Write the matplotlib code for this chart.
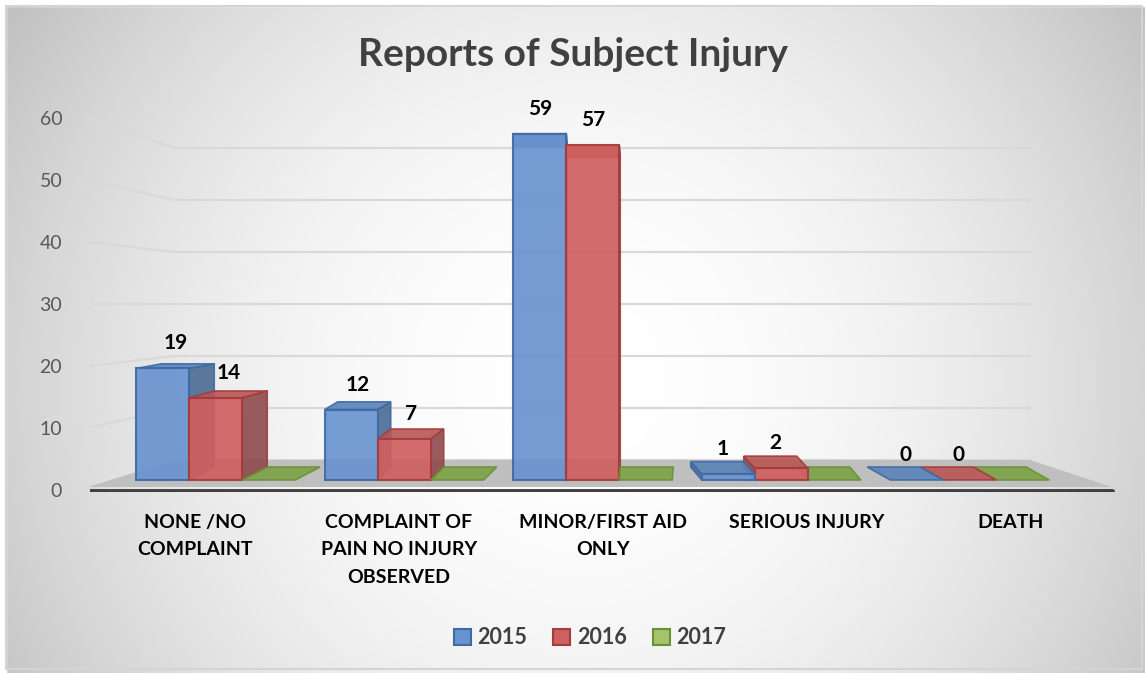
import numpy as np
import matplotlib.pyplot as plt
from matplotlib.patches import Polygon, Patch, Rectangle

plt.rcParams['font.family'] = ['Lato', 'DejaVu Sans']

# data
categories = ["NONE /NO\nCOMPLAINT", "COMPLAINT OF\nPAIN NO INJURY\nOBSERVED",
              "MINOR/FIRST AID\nONLY", "SERIOUS INJURY", "DEATH"]
years = ["2015", "2016", "2017"]
v2015 = [19, 12, 59, 1, 0]
v2016 = [14, 7, 57, 2, 0]
v2017 = [0, 0, 0, 0, 0]
yticks = [0, 10, 20, 30, 40, 50, 60]

series = [v2015, v2016, v2017]
face = ['#6993cf', '#cf5f5f', '#7ba344']
edge = ['#3e6aa6', '#a33c3c', '#6a9038']
side = ['#4a6b94', '#8f4a4c', '#6a9038']
top = ['#5a82b8', '#b85656', '#7ba344']
leg_face = ['#6993cf', '#cf6060', '#a5c46a']

W, H = 1145, 673
fig = plt.figure(figsize=(W / 100, H / 100), dpi=100)

# background with radial gradient and frame
bg = fig.add_axes([0, 0, 1, 1], zorder=-10)
yy, xx = np.mgrid[0:H, 0:W]
d = np.hypot(xx - 580, yy - 380) / 700
g = 1 - 0.26 * d ** 2
img = np.dstack([g, g, g])
bg.imshow(img, extent=[0, W, H, 0], aspect='auto')
bg.add_patch(Rectangle((0, 0), W, 6, color='white'))
bg.add_patch(Rectangle((0, 0), 6, H, color='white'))
bg.add_patch(Rectangle((6, 6), W - 9, H - 10, fill=False, ec='#d4d4d4', lw=1.5))
bg.set_xlim(0, W)
bg.set_ylim(H, 0)
bg.axis('off')

# pixel scales of the front plane
PXX, PXY = 188.5, 5.87
X0, Y0 = 166.5, 480


def dx(px):
    return (px - X0) / PXX


def dy(py):
    return (Y0 - py) / PXY


ylo, yhi = -2, 62
bot_py = Y0 - ylo * PXY
top_py = Y0 - yhi * PXY
left_px, right_px = 90, 1115
ax = fig.add_axes([left_px / W, 1 - bot_py / H, (right_px - left_px) / W, (bot_py - top_py) / H])
ax.set_xlim(dx(left_px), dx(right_px))
ax.set_ylim(ylo, yhi)
ax.patch.set_alpha(0)
for s in ax.spines.values():
    s.set_visible(False)

# gridlines: slanted from label to back wall
for v in yticks:
    ylab = dy(490 - 6.2 * v)
    yback = dy(460 - 5.2 * v)
    ax.plot([dx(88), dx(175), dx(1030)], [ylab, yback, yback], color='#d9d9d9', lw=1.6, zorder=1)

# floor
ax.add_patch(Polygon([(dx(88), dy(487)), (dx(1112), dy(487)), (dx(1030), dy(460)), (dx(175), dy(460))],
                     closed=True, fc='#bfbfbf', ec='none', zorder=2))
ax.plot([dx(88), dx(1112)], [dy(491), dy(491)], color='#404040', lw=3.5, solid_capstyle='round', zorder=3)

w = 53 / PXX
for i in range(len(categories)):
    ddx = (25 - 12 * i) / PXX
    order = range(3) if ddx > 0 else range(2, -1, -1)
    for k, j in enumerate(order):
        h = series[j][i]
        x = i - w / 2 + j * w - 0.02
        z = 5 + k * 3
        ddy0 = 13 / PXY
        ddy = (13 - 0.44 * h) / PXY
        if h > 0:
            sx = x + w if ddx > 0 else x
            ax.add_patch(Polygon([(sx, 0), (sx, h), (sx + ddx, h + ddy), (sx + ddx, ddy0)],
                                 closed=True, fc=side[j], ec=edge[j], lw=1.2, alpha=0.9, zorder=z))
        ax.add_patch(Polygon([(x, h), (x + w, h), (x + w + ddx, h + ddy), (x + ddx, h + ddy)],
                             closed=True, fc=top[j], ec=edge[j], lw=1.2, alpha=0.9, zorder=z + 1))
        if h > 0:
            ax.bar(x, h, width=w, align='edge', color=face[j], edgecolor=edge[j], lw=1.5,
                   alpha=0.92, zorder=z + 2)
        if j < 2:
            ax.annotate(str(h), (x + w / 2 + ddx * 0.5, h), xytext=(0, 18), textcoords='offset points',
                        ha='center', va='center', fontsize=15, fontweight='bold', color='black', zorder=20)

# axes ticks
ax.set_yticks([dy(490 - 6.2 * v) for v in yticks], labels=[str(v) for v in yticks])
ax.tick_params(axis='y', length=0, pad=20, labelsize=14, labelcolor='#595959')
ax.set_xticks([dx(195 + 204 * i) for i in range(len(categories))], labels=categories)
ax.tick_params(axis='x', length=0, pad=16, labelsize=14)
for t in ax.get_xticklabels():
    t.set_fontweight('bold')
    t.set_linespacing(1.75)
    t.set_color('black')

fig.text(0.5, 1 - 55 / H, "Reports of Subject Injury", ha='center', va='center',
         fontsize=28, fontweight='bold', color='#404040')

handles = [Patch(facecolor=leg_face[j], edgecolor=edge[j], lw=1.5) for j in range(3)]
fig.legend(handles, years, loc='center', bbox_to_anchor=(590 / W, 1 - 638 / H), ncol=3, frameon=False,
           prop={'weight': 'bold', 'size': 15.5}, labelcolor='#404040', handlelength=0.8, handleheight=0.8,
           columnspacing=1.2, handletextpad=0.3)

fig.savefig("out.png", dpi=100)
